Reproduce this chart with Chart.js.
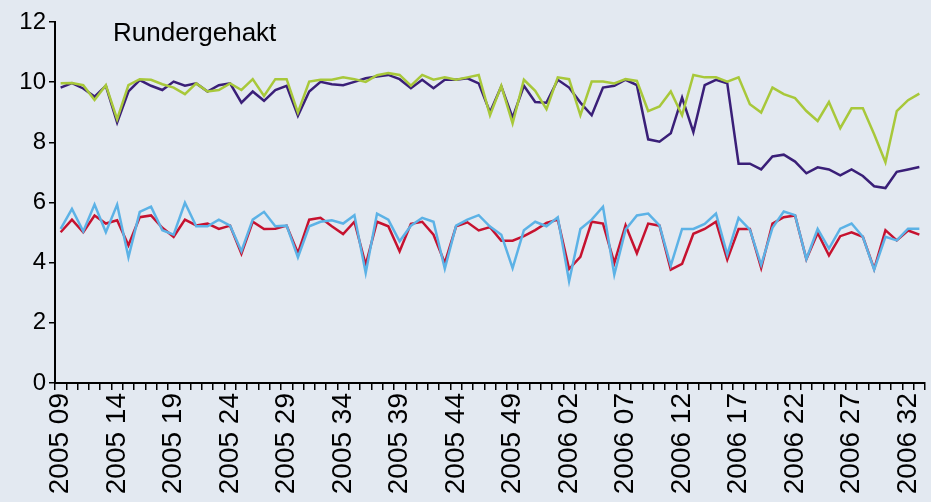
<!DOCTYPE html>
<html>
<head>
<meta charset="utf-8">
<script src="https://cdn.jsdelivr.net/npm/chart.js@4/dist/chart.umd.min.js"></script>
<style>
  html, body { margin: 0; padding: 0; background: #e3e9f1; }
  #wrap { width: 931px; height: 502px; }
</style>
</head>
<body>
<div id="wrap"><canvas id="rund-chart" width="931" height="502"></canvas></div>
<script>
// Weeks (year + week number), 2005 09 .. 2006 33
let weeks = [
    '2005 09', '2005 10', '2005 11', '2005 12', '2005 13', '2005 14', '2005 15', '2005 16', '2005 17', '2005 18',
    '2005 19', '2005 20', '2005 21', '2005 22', '2005 23', '2005 24', '2005 25', '2005 26', '2005 27', '2005 28',
    '2005 29', '2005 30', '2005 31', '2005 32', '2005 33', '2005 34', '2005 35', '2005 36', '2005 37', '2005 38',
    '2005 39', '2005 40', '2005 41', '2005 42', '2005 43', '2005 44', '2005 45', '2005 46', '2005 47', '2005 48',
    '2005 49', '2005 50', '2005 51', '2005 52', '2006 01', '2006 02', '2006 03', '2006 04', '2006 05', '2006 06',
    '2006 07', '2006 08', '2006 09', '2006 10', '2006 11', '2006 12', '2006 13', '2006 14', '2006 15', '2006 16',
    '2006 17', '2006 18', '2006 19', '2006 20', '2006 21', '2006 22', '2006 23', '2006 24', '2006 25', '2006 26',
    '2006 27', '2006 28', '2006 29', '2006 30', '2006 31', '2006 32', '2006 33'
]

// Upper pair of lines
let purpleSeries = [
    9.82, 9.97, 9.79, 9.52, 9.88, 8.66, 9.69, 10.07, 9.88, 9.74,
    10.02, 9.88, 9.96, 9.69, 9.90, 9.96, 9.32, 9.69, 9.38, 9.74,
    9.88, 8.88, 9.69, 10.01, 9.93, 9.90, 10.01, 10.13, 10.19, 10.24,
    10.10, 9.80, 10.08, 9.80, 10.08, 10.08, 10.13, 9.96, 9.00, 9.86,
    8.82, 9.88, 9.34, 9.32, 10.08, 9.82, 9.32, 8.90, 9.82, 9.88,
    10.08, 9.90, 8.10, 8.02, 8.30, 9.49, 8.34, 9.90, 10.08, 9.96,
    7.29, 7.29, 7.10, 7.53, 7.59, 7.36, 6.97, 7.17, 7.10, 6.90,
    7.10, 6.88, 6.54, 6.48, 7.02, 7.10, 7.18
]
let greenSeries = [
    9.96, 9.97, 9.90, 9.41, 9.90, 8.77, 9.90, 10.10, 10.08, 9.93,
    9.82, 9.60, 9.96, 9.69, 9.74, 9.96, 9.74, 10.10, 9.54, 10.10,
    10.10, 8.99, 10.02, 10.08, 10.08, 10.16, 10.10, 10.01, 10.23, 10.30,
    10.24, 9.88, 10.24, 10.08, 10.16, 10.08, 10.16, 10.24, 8.90, 9.88,
    8.63, 10.08, 9.71, 9.10, 10.16, 10.10, 8.90, 10.02, 10.02, 9.96,
    10.10, 10.04, 9.04, 9.19, 9.69, 8.90, 10.24, 10.16, 10.16, 10.02,
    10.16, 9.27, 8.99, 9.82, 9.60, 9.47, 9.04, 8.71, 9.34, 8.47,
    9.13, 9.13, 8.27, 7.34, 9.04, 9.40, 9.62
]

// Lower pair of lines
let redSeries = [
    5.01, 5.43, 5.01, 5.57, 5.30, 5.41, 4.58, 5.51, 5.57, 5.16,
    4.86, 5.43, 5.24, 5.30, 5.12, 5.23, 4.30, 5.36, 5.12, 5.13,
    5.23, 4.32, 5.43, 5.49, 5.21, 4.95, 5.36, 3.93, 5.36, 5.21,
    4.38, 5.29, 5.36, 4.93, 3.99, 5.21, 5.34, 5.07, 5.18, 4.73,
    4.73, 4.88, 5.08, 5.32, 5.43, 3.79, 4.19, 5.36, 5.30, 3.99,
    5.24, 4.31, 5.30, 5.23, 3.77, 3.96, 4.96, 5.12, 5.36, 4.10,
    5.12, 5.12, 3.82, 5.30, 5.51, 5.57, 4.12, 4.99, 4.24, 4.88,
    5.01, 4.86, 3.79, 5.08, 4.74, 5.07, 4.93
]
let blueSeries = [
    5.12, 5.79, 5.04, 5.93, 5.01, 5.93, 4.18, 5.69, 5.86, 5.08,
    4.93, 5.99, 5.21, 5.21, 5.43, 5.23, 4.38, 5.43, 5.69, 5.21,
    5.23, 4.18, 5.21, 5.36, 5.41, 5.30, 5.58, 3.66, 5.63, 5.43,
    4.71, 5.23, 5.49, 5.36, 3.80, 5.23, 5.43, 5.58, 5.20, 4.93,
    3.82, 5.08, 5.36, 5.21, 5.51, 3.38, 5.12, 5.43, 5.86, 3.60,
    5.10, 5.57, 5.63, 5.24, 3.90, 5.12, 5.12, 5.29, 5.63, 4.27,
    5.49, 5.10, 3.93, 5.16, 5.70, 5.58, 4.12, 5.12, 4.47, 5.13,
    5.30, 4.86, 3.77, 4.86, 4.74, 5.13, 5.13
]

let chartTitle = 'Rundergehakt'
let labelEvery = 5 // only every 5th week gets a tick label

let bgColor = '#e3e9f1'
let fontFamily = '"Liberation Sans", Arial, sans-serif'

// Paint the light background and write the title inside the plot
let backdrop = {
    id: 'backdrop',
    beforeDraw: function (chart) {
        let c = chart.ctx
        c.save()
        c.fillStyle = bgColor
        c.fillRect(0, 0, chart.width, chart.height)
        c.restore()
    },
    afterDraw: function (chart) {
        let c = chart.ctx
        c.save()
        c.fillStyle = '#000'
        c.font = '26px ' + fontFamily
        c.textBaseline = 'middle'
        c.fillText(chartTitle, 113, 34)
        c.restore()
    }
}

function lineSet(data, color) {
    return {
        data: data,
        borderColor: color,
        borderWidth: 2.5,
        pointRadius: 0,
        tension: 0,
        fill: false
    }
}

let cxt = document.querySelector('#rund-chart').getContext('2d')

let chart = new Chart(cxt, {
    type: 'line',
    data: {
        labels: weeks,
        // first dataset is drawn on top
        datasets: [
            lineSet(greenSeries, '#a8c83a'),
            lineSet(purpleSeries, '#3a1f78'),
            lineSet(blueSeries, '#5cb2e6'),
            lineSet(redSeries, '#c6122f')
        ]
    },
    options: {
        responsive: false,
        animation: false,
        events: [],
        layout: { padding: { top: 22, right: 6, left: 0, bottom: 0 } },
        plugins: {
            legend: { display: false },
            tooltip: { enabled: false }
        },
        scales: {
            x: {
                offset: true,
                grid: { display: true, drawOnChartArea: false, offset: true, tickLength: 7, color: '#000', lineWidth: 1.5 },
                border: { display: true, color: '#000', width: 2 },
                ticks: {
                    autoSkip: false,
                    minRotation: 90,
                    maxRotation: 90,
                    padding: 3,
                    color: '#000',
                    font: { family: fontFamily, size: 28 },
                    callback: function (value, index) {
                        return index % labelEvery === 0 ? weeks[index] : ''
                    }
                },
                afterFit: function (scale) {
                    scale.height = 119
                    scale.paddingLeft = 0
                    scale.paddingRight = 0
                }
            },
            y: {
                min: 0,
                max: 12,
                grid: { display: true, drawOnChartArea: false, tickLength: 6, color: '#000', lineWidth: 1.5 },
                border: { display: true, color: '#000', width: 2 },
                ticks: {
                    stepSize: 2,
                    padding: 3,
                    color: '#000',
                    font: { family: fontFamily, size: 24 }
                },
                afterFit: function (scale) {
                    scale.width = 55
                }
            }
        }
    },
    plugins: [backdrop]
})
</script>
</body>
</html>
